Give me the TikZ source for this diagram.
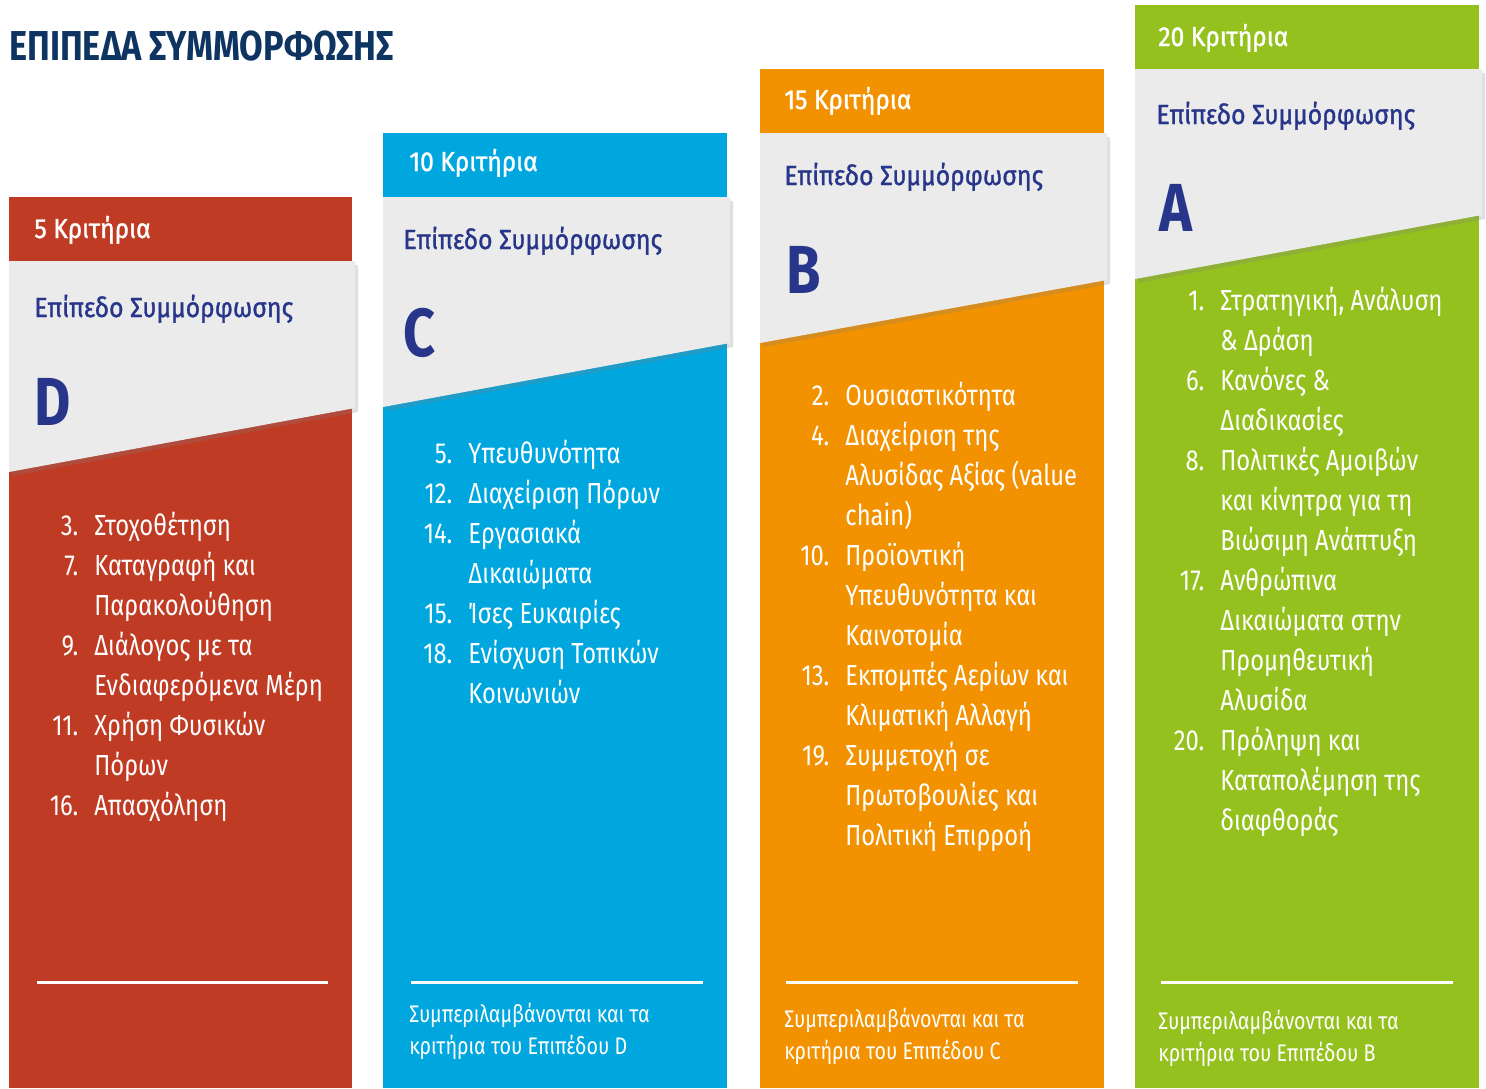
\documentclass[tikz,border=0pt]{standalone}
\usepackage{fontspec}
\usepackage{array}
\usetikzlibrary{shadows}
\setmainfont{Fira Sans}[FakeStretch=0.82]
\newfontfamily\medfont{Fira Sans}[FakeStretch=0.9, FakeBold=1.2]

\definecolor{colD}{HTML}{C03B24}
\definecolor{colC}{HTML}{00A6DE}
\definecolor{colB}{HTML}{F39200}
\definecolor{colA}{HTML}{95C11F}
\definecolor{panelgray}{HTML}{EBEBEB}
\definecolor{navy}{HTML}{0E3461}
\definecolor{lvlblue}{HTML}{27368A}

\newcolumntype{N}{>{\raggedleft\arraybackslash}p{27pt}}
\newcommand{\listfont}{\fontsize{14.5}{20}\selectfont}

\begin{document}
\begin{tikzpicture}[x=0.5pt,y=-0.5pt]
  \tikzset{
    hdr/.style={anchor=base west, inner sep=0pt, text=white, font=\medfont\fontsize{13.7}{16}\selectfont},
    lvl/.style={anchor=base west, inner sep=0pt, text=lvlblue, font=\medfont\fontsize{13.8}{16}\selectfont},
    letter/.style={anchor=base west, inner sep=0pt, text=lvlblue, font=\fontsize{34}{36}\selectfont\bfseries},
    crit/.style={anchor=north west, inner sep=0pt, text=white, font=\listfont},
    foot/.style={anchor=base west, inner sep=0pt, text=white, align=left, font=\fontsize{12}{16}\selectfont},
    panel/.style={fill=panelgray, drop shadow={shadow xshift=1.5pt, shadow yshift=-2pt, opacity=0.25}},
    rule/.style={white, line width=1.5pt}
  }
  \useasboundingbox (0,0) rectangle (1486,1088);

  \node[anchor=base west, inner sep=0pt, text=navy, font=\fontsize{20.9}{24}\selectfont\bfseries]
    (title) at (9,60) {ΕΠΙΠΕΔΑ ΣΥΜΜΟΡΦΩΣΗΣ};

  % level D
  \fill[colD] (9,197) rectangle (352,1088);
  \node[hdr] (hdrD) at (34,238) {5 Κριτήρια};
  \fill[panel] (9,261) -- (355,261) -- (355,408) -- (9,472) -- cycle;
  \node[lvl] (lvlD) at (34,317) {Επίπεδο Συμμόρφωσης};
  \node[letter] (letD) at (34,425) {D};
  \node[crit] (listD) at (24,507) {\begin{tabular}{@{}N@{\hspace{8pt}}l@{}}
    3. & Στοχοθέτηση\\
    7. & Καταγραφή και\\
       & Παρακολούθηση\\
    9. & Διάλογος με τα\\
       & Ενδιαφερόμενα Μέρη\\
    11. & Χρήση Φυσικών\\
        & Πόρων\\
    16. & Απασχόληση
  \end{tabular}};
  \coordinate (lD1) at (37,982);
  \coordinate (lD2) at (328,982);
  \draw[rule] (lD1) -- (lD2);

  % level C
  \fill[colC] (383,133) rectangle (727,1088);
  \node[hdr] (hdrC) at (409,171) {10 Κριτήρια};
  \fill[panel] (383,197) -- (730,197) -- (730,343) -- (383,407) -- cycle;
  \node[lvl] (lvlC) at (403,249) {Επίπεδο Συμμόρφωσης};
  \node[letter] (letC) at (403,356) {C};
  \node[crit] (listC) at (398,435) {\begin{tabular}{@{}N@{\hspace{8pt}}l@{}}
    5. & Υπευθυνότητα\\
    12. & Διαχείριση Πόρων\\
    14. & Εργασιακά\\
        & Δικαιώματα\\
    15. & Ίσες Ευκαιρίες\\
    18. & Ενίσχυση Τοπικών\\
        & Κοινωνιών
  \end{tabular}};
  \coordinate (lC1) at (411,982);
  \coordinate (lC2) at (703,982);
  \draw[rule] (lC1) -- (lC2);
  \node[foot] (footC) at (409,1054) {Συμπεριλαμβάνονται και τα\\κριτήρια του Επιπέδου D};

  % level B
  \fill[colB] (760,69) rectangle (1104,1088);
  \node[hdr] (hdrB) at (784,109) {15 Κριτήρια};
  \fill[panel] (760,133) -- (1107,133) -- (1107,280) -- (760,343) -- cycle;
  \node[lvl] (lvlB) at (784,185) {Επίπεδο Συμμόρφωσης};
  \node[letter] (letB) at (786,293) {B};
  \node[crit] (listB) at (775,377) {\begin{tabular}{@{}N@{\hspace{8pt}}l@{}}
    2. & Ουσιαστικότητα\\
    4. & Διαχείριση της\\
       & Αλυσίδας Αξίας (value\\
       & chain)\\
    10. & Προϊοντική\\
        & Υπευθυνότητα και\\
        & Καινοτομία\\
    13. & Εκπομπές Αερίων και\\
        & Κλιματική Αλλαγή\\
    19. & Συμμετοχή σε\\
        & Πρωτοβουλίες και\\
        & Πολιτική Επιρροή
  \end{tabular}};
  \coordinate (lB1) at (786,982);
  \coordinate (lB2) at (1078,982);
  \draw[rule] (lB1) -- (lB2);
  \node[foot] (footB) at (784,1059) {Συμπεριλαμβάνονται και τα\\κριτήρια του Επιπέδου C};

  % level A
  \fill[colA] (1135,5) rectangle (1479,1088);
  \node[hdr] (hdrA) at (1158,46) {20 Κριτήρια};
  \fill[panel] (1135,69) -- (1482,69) -- (1482,215) -- (1135,279) -- cycle;
  \node[lvl] (lvlA) at (1156,124) {Επίπεδο Συμμόρφωσης};
  \node[letter] (letA) at (1159,231) {A};
  \node[crit] (listA) at (1150,282) {\begin{tabular}{@{}N@{\hspace{8pt}}l@{}}
    1. & Στρατηγική, Ανάλυση\\
       & \& Δράση\\
    6. & Κανόνες \&\\
       & Διαδικασίες\\
    8. & Πολιτικές Αμοιβών\\
       & και κίνητρα για τη\\
       & Βιώσιμη Ανάπτυξη\\
    17. & Ανθρώπινα\\
        & Δικαιώματα στην\\
        & Προμηθευτική\\
        & Αλυσίδα\\
    20. & Πρόληψη και\\
        & Καταπολέμηση της\\
        & διαφθοράς
  \end{tabular}};
  \coordinate (lA1) at (1161,982);
  \coordinate (lA2) at (1453,982);
  \draw[rule] (lA1) -- (lA2);
  \node[foot] (footA) at (1158,1061) {Συμπεριλαμβάνονται και τα\\κριτήρια του Επιπέδου B};
\end{tikzpicture}
\end{document}
